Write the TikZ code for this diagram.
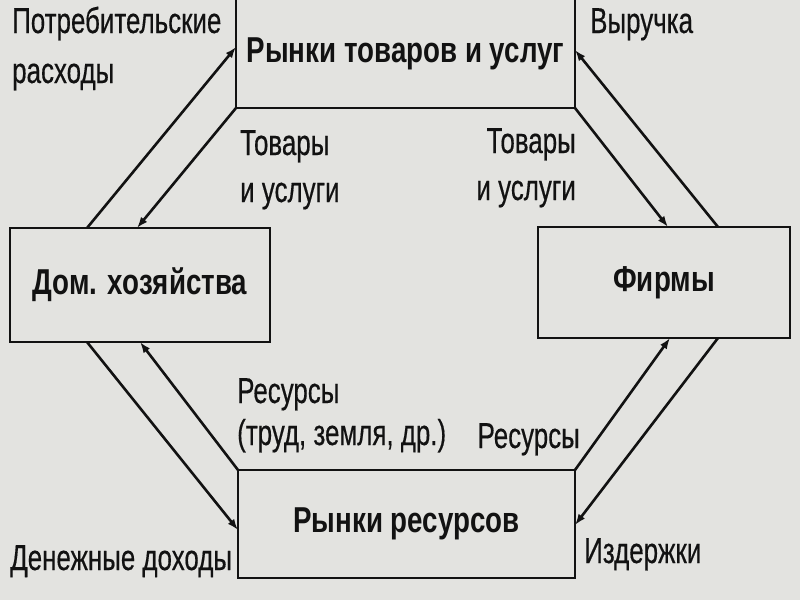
\documentclass[tikz,border=0pt]{standalone}
\usepackage{fontspec}
\setmainfont{Liberation Sans}[FakeStretch=0.72,FakeBold=0.4]
\newfontfamily\boxfont{Liberation Sans}[FakeStretch=0.77]
\usetikzlibrary{arrows.meta,calc}
\definecolor{paper}{RGB}{227,227,224}
\definecolor{ink}{RGB}{18,18,18}
\begin{document}
\begin{tikzpicture}[x=1pt,y=-1pt,
  box/.style={draw=ink, line width=2.9pt, fill=paper, inner sep=0pt, outer sep=0pt,
    font=\boxfont\fontsize{36}{40}\selectfont\bfseries, text=ink},
  lab/.style={inner sep=0pt, font=\fontsize{36}{47}\selectfont, text=ink, align=left},
  labr/.style={lab, align=right},
  flow/.style={draw=ink, line width=2.6pt, -{Latex[length=11pt,width=8pt]}}]
\fill[paper] (0,0) rectangle (800,600);
\useasboundingbox (0,0) rectangle (800,600);

\node[box, minimum width=339pt, minimum height=109pt] (T) at (405.5,53.5) {Рынки товаров и услуг};
\node[box, minimum width=260pt, minimum height=114pt] (L) at (140,285) {Дом. хозяйства};
\node[box, minimum width=252pt, minimum height=111pt] (R) at (664,282.5) {Фирмы};
\node[box, minimum width=337pt, minimum height=108pt] (B) at (406.5,524) {Рынки ресурсов};

\draw[flow] ($(L.north west)+(77,0)$) -- ($(T.north west)+(0,48)$);
\draw[flow] (T.south west) -- ($(L.north west)+(127,0)$);
\draw[flow] ($(R.north west)+(180,0)$) -- ($(T.north east)+(0,51)$);
\draw[flow] (T.south east) -- ($(R.north west)+(130,0)$);
\draw[flow] ($(L.south west)+(77,0)$) -- ($(B.north west)+(0,60)$);
\draw[flow] (B.north west) -- ($(L.south west)+(130,0)$);
\draw[flow] (B.north east) -- ($(R.south west)+(132,0)$);
\draw[flow] ($(R.south west)+(180,0)$) -- ($(B.north east)+(0,55)$);

\node[lab, anchor=base west] (l1) at (12,83) {Потребительские\\[3pt]расходы};
\node[lab, anchor=base west] (l2) at (590,33) {Выручка};
\node[lab, anchor=base west] (l3) at (240,202) {Товары\\и услуги};
\node[labr, anchor=base east] (l4) at (576,200) {Товары\\и услуги};
\node[lab, anchor=base west] (l5) at (237,445) {Ресурсы\\[-5pt](труд, земля, др.)};
\node[lab, anchor=base east] (l6) at (580,448) {Ресурсы};
\node[lab, anchor=base west] (l7) at (10,570) {Денежные доходы};
\node[lab, anchor=base west] (l8) at (584,563) {Издержки};
\end{tikzpicture}
\end{document}
